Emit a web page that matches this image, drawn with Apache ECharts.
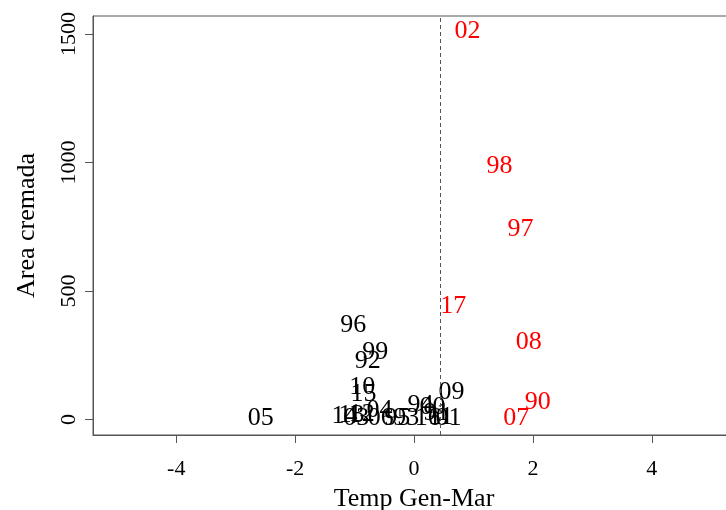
<!DOCTYPE html>
<html>
<head>
<meta charset="utf-8">
<script src="https://cdn.jsdelivr.net/npm/echarts@6/dist/echarts.min.js"></script>
<style>
  html, body { margin: 0; padding: 0; background: #fff; }
  #chart { width: 726px; height: 510px; }
</style>
</head>
<body>
<div id="chart"></div>
<script>
// year labels, winter temperature anomaly, burned area
const years = ["02", "98", "97", "17", "08", "90", "07",
  "96", "99", "92", "10", "15", "05", "04", "13", "03", "12", "06",
  "95", "93", "16", "01", "11", "94", "00", "91", "09", "14"];
const tempGenMar = [0.90, 1.44, 1.79, 0.66, 1.93, 2.08, 1.72,
  -1.02, -0.65, -0.78, -0.87, -0.85, -2.58, -0.58, -1.05, -0.97, -0.88, -0.56,
  -0.28, -0.13, 0.23, 0.58, 0.45, 0.11, 0.31, 0.38, 0.63, -1.17];
const areaCremada = [1510, 985, 740, 440, 300, 68, 5,
  367, 262, 227, 126, 98, 5, 36, 17, 5, 20, 5,
  5, 5, 5, 5, 9, 56, 48, 25, 107, 13];
// 1 = highlighted in red
const highlight = [1, 1, 1, 1, 1, 1, 1,
  0, 0, 0, 0, 0, 0, 0, 0, 0, 0, 0,
  0, 0, 0, 0, 0, 0, 0, 0, 0, 0];
const xTicks = [-4, -2, 0, 2, 4];
const yTicks = [0, 500, 1000, 1500];
const threshold = 0.436;

const font = "Liberation Serif";
const chart = echarts.init(document.getElementById("chart"));

const points = years.map((y, i) => ({
  value: [tempGenMar[i], areaCremada[i], y],
  label: { color: highlight[i] ? "#ff0000" : "#000000" }
}));

chart.setOption({
  animation: false,
  grid: {
    left: 93, right: -9, top: 16, bottom: 75,
    outerBoundsMode: "none",
    show: true, borderColor: "#555", borderWidth: 1
  },
  xAxis: {
    type: "value",
    min: -5.4,
    max: 5.4,
    name: "Temp Gen-Mar",
    nameLocation: "middle",
    nameGap: 51,
    nameTextStyle: { fontFamily: font, fontSize: 26, color: "#000" },
    axisLine: { show: true, onZero: false, lineStyle: { color: "#555" } },
    splitLine: { show: false },
    axisTick: { show: true, inside: false, length: 8, customValues: xTicks, lineStyle: { color: "#555" } },
    axisLabel: { customValues: xTicks, formatter: (v) => String(v), fontFamily: font, fontSize: 22, color: "#000", margin: 23 }
  },
  yAxis: {
    type: "value",
    min: -60,
    max: 1570,
    name: "Area cremada",
    nameLocation: "middle",
    nameGap: 53,
    nameTextStyle: { fontFamily: font, fontSize: 26, color: "#000" },
    axisLine: { show: true, onZero: false, lineStyle: { color: "#555" } },
    splitLine: { show: false },
    axisTick: { show: true, inside: false, length: 8, customValues: yTicks, lineStyle: { color: "#555" } },
    axisLabel: { customValues: yTicks, formatter: (v) => String(v), rotate: 90, fontFamily: font, fontSize: 22, color: "#000", margin: 13 }
  },
  series: [
    {
      type: "scatter",
      symbolSize: 0,
      itemStyle: { opacity: 1 },
      data: points,
      label: {
        show: true,
        position: "inside",
        formatter: (p) => p.value[2],
        fontFamily: font,
        fontSize: 26
      },
      markLine: {
        silent: true,
        symbol: "none",
        label: { show: false },
        lineStyle: { color: "#555", type: [4, 3], width: 1 },
        data: [{ xAxis: threshold }]
      }
    }
  ]
});
</script>
</body>
</html>
